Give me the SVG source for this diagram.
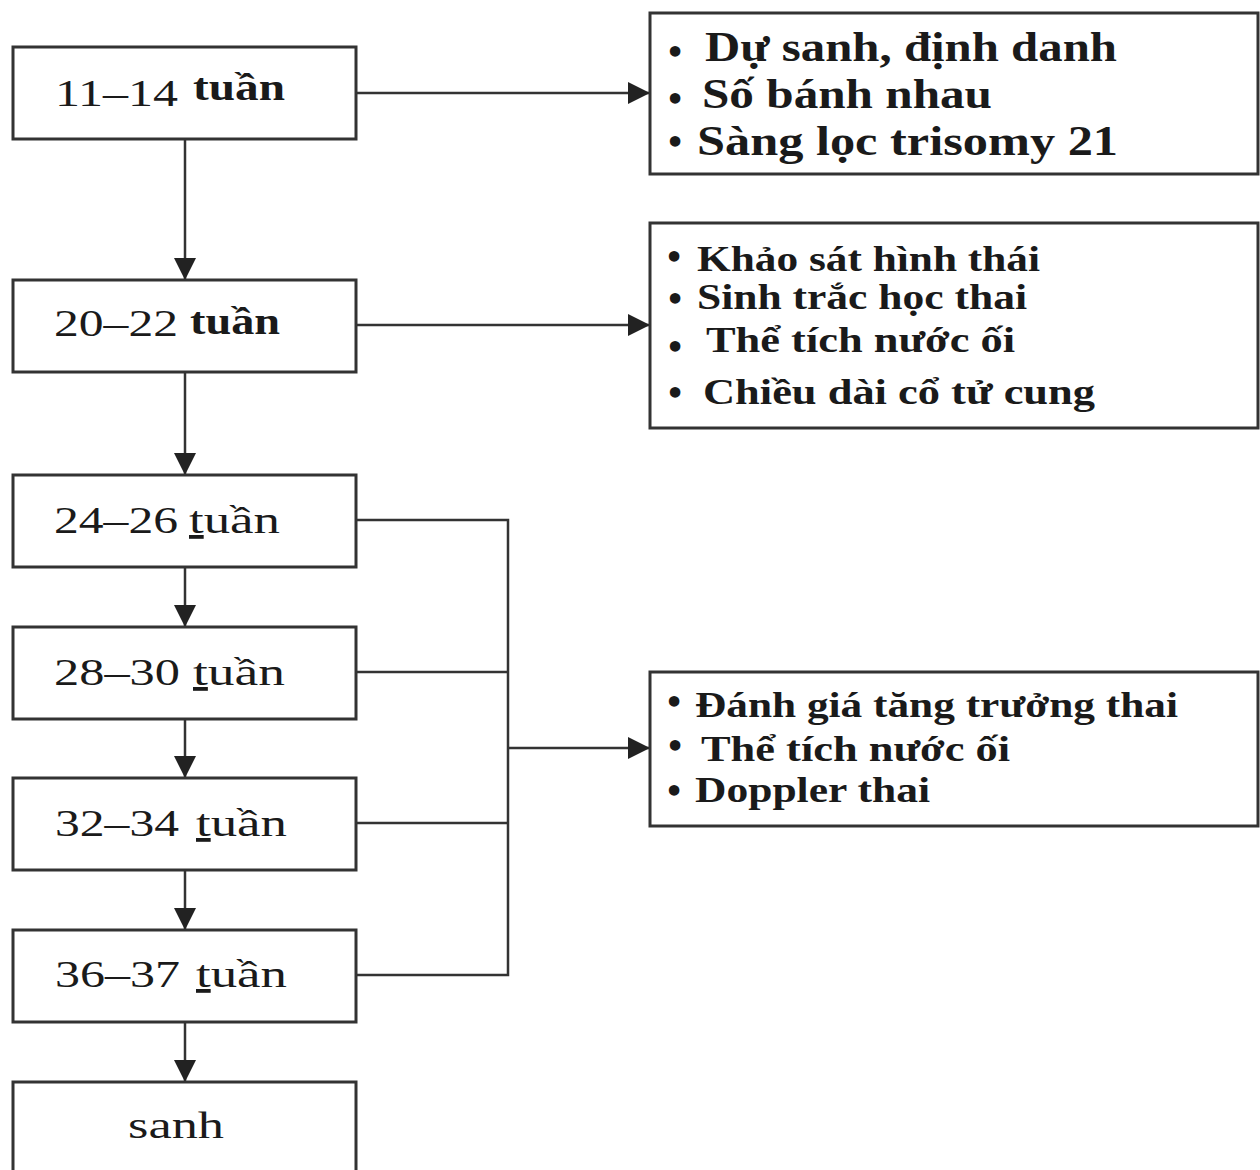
<svg xmlns="http://www.w3.org/2000/svg" width="1260" height="1170" viewBox="0 0 1260 1170">
<defs>
<marker id="ah" viewBox="0 0 10 10" refX="10" refY="5" markerWidth="24" markerHeight="22" markerUnits="userSpaceOnUse" orient="auto">
<path d="M0,0 L10,5 L0,10 Z" fill="#222"/>
</marker>
</defs>
<style>
.box{fill:#fff;stroke:#333;stroke-width:3}
.ln{fill:none;stroke:#333;stroke-width:2.5}
.t{font-family:"Liberation Serif","Times New Roman",serif;fill:#1a1a1a}
.lt{font-size:38px}
.b{font-weight:bold}
.ra{font-size:42px;font-weight:bold}
.rb{font-size:36px;font-weight:bold}
.bu{font-family:"DejaVu Sans",sans-serif;font-size:30px;font-weight:bold;fill:#1a1a1a;text-anchor:middle}
.u{text-decoration:underline}
</style>
<rect width="1260" height="1170" fill="#fff"/>
<g id="connectors">
<line class="ln" x1="356" y1="93" x2="650" y2="93" marker-end="url(#ah)"/>
<line class="ln" x1="356" y1="325" x2="650" y2="325" marker-end="url(#ah)"/>
<line class="ln" x1="185" y1="139" x2="185" y2="280" marker-end="url(#ah)"/>
<line class="ln" x1="185" y1="372" x2="185" y2="475" marker-end="url(#ah)"/>
<line class="ln" x1="185" y1="567" x2="185" y2="627" marker-end="url(#ah)"/>
<line class="ln" x1="185" y1="719" x2="185" y2="778" marker-end="url(#ah)"/>
<line class="ln" x1="185" y1="870" x2="185" y2="930" marker-end="url(#ah)"/>
<line class="ln" x1="185" y1="1022" x2="185" y2="1082" marker-end="url(#ah)"/>
<polyline class="ln" points="356,520 508,520 508,975 356,975"/>
<line class="ln" x1="356" y1="672" x2="508" y2="672"/>
<line class="ln" x1="356" y1="823" x2="508" y2="823"/>
<line class="ln" x1="508" y1="748" x2="650" y2="748" marker-end="url(#ah)"/>
</g>
<g id="n1"><rect class="box" x="13" y="47" width="343" height="92"/>
<text class="t lt" x="55" y="106" textLength="123" lengthAdjust="spacingAndGlyphs">11–14</text>
<text class="t lt b" x="193" y="100" textLength="92" lengthAdjust="spacingAndGlyphs">tuần</text></g>
<g id="n2"><rect class="box" x="13" y="280" width="343" height="92"/>
<text class="t lt" x="54" y="336" textLength="124" lengthAdjust="spacingAndGlyphs">20–22</text>
<text class="t lt b" x="190" y="334" textLength="90" lengthAdjust="spacingAndGlyphs">tuần</text></g>
<g id="n3"><rect class="box" x="13" y="475" width="343" height="92"/>
<text class="t lt" x="54" y="533" textLength="124" lengthAdjust="spacingAndGlyphs">24–26</text>
<text class="t lt" x="189" y="533" textLength="91" lengthAdjust="spacingAndGlyphs"><tspan class="u">t</tspan>uần</text></g>
<g id="n4"><rect class="box" x="13" y="627" width="343" height="92"/>
<text class="t lt" x="54" y="685" textLength="126" lengthAdjust="spacingAndGlyphs">28–30</text>
<text class="t lt" x="193" y="685" textLength="92" lengthAdjust="spacingAndGlyphs"><tspan class="u">t</tspan>uần</text></g>
<g id="n5"><rect class="box" x="13" y="778" width="343" height="92"/>
<text class="t lt" x="55" y="836" textLength="124" lengthAdjust="spacingAndGlyphs">32–34</text>
<text class="t lt" x="196" y="836" textLength="91" lengthAdjust="spacingAndGlyphs"><tspan class="u">t</tspan>uần</text></g>
<g id="n6"><rect class="box" x="13" y="930" width="343" height="92"/>
<text class="t lt" x="55" y="987" textLength="125" lengthAdjust="spacingAndGlyphs">36–37</text>
<text class="t lt" x="196" y="987" textLength="91" lengthAdjust="spacingAndGlyphs"><tspan class="u">t</tspan>uần</text></g>
<g id="n7"><rect class="box" x="13" y="1082" width="343" height="100"/>
<text class="t lt" x="128" y="1138" textLength="96" lengthAdjust="spacingAndGlyphs">sanh</text></g>
<g id="r1"><rect class="box" x="650" y="13" width="608" height="161"/>
<text class="bu" x="675" y="63">•</text>
<text class="t ra" x="705" y="61" textLength="412" lengthAdjust="spacingAndGlyphs">Dự sanh, định danh</text>
<text class="bu" x="675" y="110">•</text>
<text class="t ra" x="702" y="108" textLength="290" lengthAdjust="spacingAndGlyphs">Số bánh nhau</text>
<text class="bu" x="675" y="153">•</text>
<text class="t ra" x="697" y="155" textLength="421" lengthAdjust="spacingAndGlyphs">Sàng lọc trisomy 21</text></g>
<g id="r2"><rect class="box" x="650" y="223" width="608" height="205"/>
<text class="bu" x="674" y="268">•</text>
<text class="t rb" x="697" y="271" textLength="343" lengthAdjust="spacingAndGlyphs">Khảo sát hình thái</text>
<text class="bu" x="675" y="310">•</text>
<text class="t rb" x="697" y="309" textLength="330" lengthAdjust="spacingAndGlyphs">Sinh trắc học thai</text>
<text class="bu" x="675" y="358">•</text>
<text class="t rb" x="706" y="352" textLength="309" lengthAdjust="spacingAndGlyphs">Thể tích nước ối</text>
<text class="bu" x="675" y="404">•</text>
<text class="t rb" x="703" y="404" textLength="392" lengthAdjust="spacingAndGlyphs">Chiều dài cổ tử cung</text></g>
<g id="r3"><rect class="box" x="650" y="672" width="608" height="154"/>
<text class="bu" x="674" y="713">•</text>
<text class="t rb" x="695" y="717" textLength="483" lengthAdjust="spacingAndGlyphs">Đánh giá tăng trưởng thai</text>
<text class="bu" x="675" y="757">•</text>
<text class="t rb" x="701" y="761" textLength="309" lengthAdjust="spacingAndGlyphs">Thể tích nước ối</text>
<text class="bu" x="674" y="802">•</text>
<text class="t rb" x="695" y="802" textLength="235" lengthAdjust="spacingAndGlyphs">Doppler thai</text></g>
</svg>
